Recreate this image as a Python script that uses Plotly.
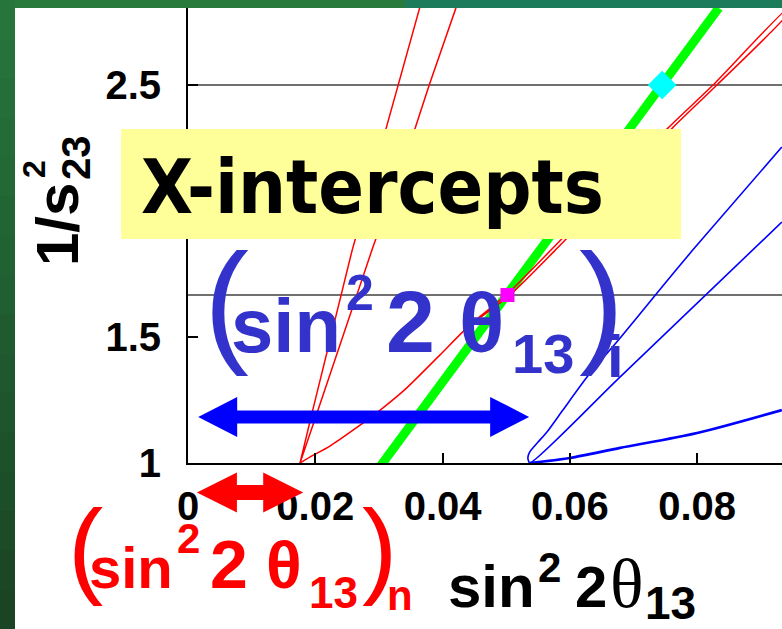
import plotly.graph_objects as go

# ---------------- data ----------------
x_range = [0, 0.09333]
y_range = [1, 2.8056]

x_tickvals = [0, 0.02, 0.04, 0.06, 0.08]
x_ticktext = ["0", "0.02", "0.04", "0.06", "0.08"]
y_tickvals = [1, 1.5, 2, 2.5]
y_ticktext = ["1", "1.5", "2", "2.5"]

ref_levels = [2.5, 1.6667]          # 1/s23^2 for s23^2 = 0.4 and 0.6

# red contour A (steep narrow loop)
redA_x = [0.0364, 0.0330, 0.0311, 0.0258, 0.0195, 0.0176, 0.0203, 0.0289, 0.0357, 0.0379, 0.0421]
redA_y = [2.806, 2.500, 2.329, 1.845, 1.200, 1.000, 1.200, 1.845, 2.329, 2.500, 2.806]

# red contour B (curved loop through the magenta point)
redB_x = [0.0176, 0.0192, 0.0223, 0.0262, 0.0302, 0.0342, 0.0396, 0.0443, 0.0500, 0.0578,
          0.0666, 0.0754, 0.0825, 0.0945, 0.0945, 0.0831, 0.0761, 0.0673, 0.0585, 0.0506, 0.0443]
redB_y = [1.000, 1.024, 1.067, 1.135, 1.210, 1.294, 1.429, 1.548, 1.667, 1.865,
          2.095, 2.329, 2.500, 2.810, 2.790, 2.500, 2.329, 2.095, 1.865, 1.667, 1.548]

# blue contour C (loop)
blueC_x = [0.0933, 0.0793, 0.0737, 0.0679, 0.0627, 0.0589, 0.0564, 0.0550, 0.0537, 0.0534,
           0.0537, 0.0677, 0.0933]
blueC_y = [2.254, 1.845, 1.675, 1.496, 1.341, 1.210, 1.123, 1.083, 1.044, 1.020,
           1.000, 1.337, 1.956]

# blue contour D (lower branch)
blueD_x = [0.0537, 0.0600, 0.0679, 0.0800, 0.0933]
blueD_y = [1.000, 1.020, 1.060, 1.119, 1.210]

# green line
green_x = [0.0300, 0.0834]
green_y = [0.980, 2.806]

# intersection markers
magenta_pt = (0.0502, 1.6667)
cyan_pt = (0.0745, 2.5)

# intercept arrows (data units)
blue_arrow = dict(x0=0.0016, x1=0.0536, y=1.183)
red_arrow = dict(x0=0.0014, x1=0.0181, y=0.883)

# ---------------- layout geometry ----------------
W, H = 782, 629
ML, MR, MT, MB = 188, 0, 8, 166
PW = W - ML - MR
PH = H - MT - MB

ARIAL = "Liberation Sans, Arial, sans-serif"
SERIF = "Liberation Serif, Times New Roman, serif"
TAHOMA = "DejaVu Sans Condensed, DejaVu Sans, sans-serif"


def fx(p):
    return (p - ML) / PW


def fy(p):
    return (MT + PH - p) / PH


def dx2p(x):
    return ML + (x - x_range[0]) / (x_range[1] - x_range[0]) * PW


def dy2p(y):
    return MT + PH - (y - y_range[0]) / (y_range[1] - y_range[0]) * PH


fig = go.Figure()

for lv in ref_levels:
    fig.add_trace(go.Scatter(x=x_range, y=[lv, lv], mode="lines",
                             line=dict(color="#707070", width=2), hoverinfo="skip"))

fig.add_trace(go.Scatter(x=blueC_x, y=blueC_y, mode="lines",
                         line=dict(color="#0000FF", width=1.6, shape="spline", smoothing=0.6), hoverinfo="skip"))
fig.add_trace(go.Scatter(x=blueD_x, y=blueD_y, mode="lines",
                         line=dict(color="#0000FF", width=2.6, shape="spline", smoothing=0.8), hoverinfo="skip"))
fig.add_trace(go.Scatter(x=green_x, y=green_y, mode="lines",
                         line=dict(color="#00FF00", width=9), hoverinfo="skip"))
fig.add_trace(go.Scatter(x=redA_x, y=redA_y, mode="lines",
                         line=dict(color="#FF0000", width=1.5), hoverinfo="skip"))
fig.add_trace(go.Scatter(x=redB_x, y=redB_y, mode="lines",
                         line=dict(color="#FF0000", width=1.5, shape="spline", smoothing=0.6), hoverinfo="skip"))
fig.add_trace(go.Scatter(x=[magenta_pt[0]], y=[magenta_pt[1]], mode="markers",
                         marker=dict(symbol="square", size=14, color="#FF00FF"), hoverinfo="skip"))
fig.add_trace(go.Scatter(x=[cyan_pt[0]], y=[cyan_pt[1]], mode="markers",
                         marker=dict(symbol="diamond", size=22, color="#00FFFF"), hoverinfo="skip"))

shapes = []
# green frame (slide background)
shapes.append(dict(type="rect", xref="paper", yref="paper", x0=fx(0), x1=fx(405), y0=fy(8), y1=fy(0),
                   fillcolor="#27793C", line=dict(width=0), layer="above"))
shapes.append(dict(type="rect", xref="paper", yref="paper", x0=fx(405), x1=fx(782), y0=fy(8), y1=fy(0),
                   fillcolor="#1B7B5B", line=dict(width=0), layer="above"))
c0 = (38, 118, 60)
c1 = (26, 68, 36)
nb = 16
for i in range(nb):
    t = i / (nb - 1)
    col = "rgb(%d,%d,%d)" % tuple(round(a + (b - a) * t) for a, b in zip(c0, c1))
    shapes.append(dict(type="rect", xref="paper", yref="paper", x0=fx(0), x1=fx(15),
                       y0=fy(629 * (i + 1) / nb + 1), y1=fy(629 * i / nb),
                       fillcolor=col, line=dict(width=0), layer="above"))

# yellow label box
shapes.append(dict(type="rect", xref="paper", yref="paper", x0=fx(121), x1=fx(681), y0=fy(239), y1=fy(129),
                   fillcolor="#FFFF99", line=dict(width=0), layer="above"))


def arrow_path(x0p, x1p, yc, hl, hh, sh):
    pts = [(x0p, yc), (x0p + hl, yc - hh), (x0p + hl, yc - sh), (x1p - hl, yc - sh),
           (x1p - hl, yc - hh), (x1p, yc), (x1p - hl, yc + hh), (x1p - hl, yc + sh),
           (x0p + hl, yc + sh), (x0p + hl, yc + hh)]
    return "M " + " L ".join("%.5f,%.5f" % (fx(a), fy(b)) for a, b in pts) + " Z"


shapes.append(dict(type="path", xref="paper", yref="paper",
                   path=arrow_path(dx2p(blue_arrow["x0"]), dx2p(blue_arrow["x1"]), dy2p(blue_arrow["y"]), 39, 20, 6.5),
                   fillcolor="#0000FF", line=dict(width=0), layer="above"))
shapes.append(dict(type="path", xref="paper", yref="paper",
                   path=arrow_path(dx2p(red_arrow["x0"]), dx2p(red_arrow["x1"]), dy2p(red_arrow["y"]), 40, 20, 7.5),
                   fillcolor="#FF0000", line=dict(width=0), layer="above"))

annotations = []


def txt(s, x_left, baseline, size, color, family, bold=True, shift=0.3465):
    annotations.append(dict(text=s, xref="paper", yref="paper", x=fx(x_left), y=fy(baseline - shift * size),
                            xanchor="left", yanchor="middle", showarrow=False, borderpad=0, borderwidth=0,
                            font=dict(family=family, size=size, color=color,
                                      weight="bold" if bold else "normal")))


def rtxt(s, xc, yc, size, color, family, bold=True):
    annotations.append(dict(text=s, xref="paper", yref="paper", x=fx(xc), y=fy(yc), textangle=-90,
                            xanchor="center", yanchor="middle", showarrow=False, borderpad=0, borderwidth=0,
                            font=dict(family=family, size=size, color=color,
                                      weight="bold" if bold else "normal")))


# X-intercepts label
txt("X-intercepts", 141, 213, 75, "black", TAHOMA)

# blue (sin^2 2 theta13)_i
BL = "#3333CC"
txt("(", 204, 348, 135, BL, ARIAL, bold=False)
txt("sin", 231, 352, 76, BL, ARIAL)
txt("2", 346, 310, 50, BL, ARIAL)
txt("2", 386, 352, 88, BL, ARIAL)
txt("θ", 459, 352, 84, BL, ARIAL)
txt("13", 512, 373, 56, BL, ARIAL)
txt(")", 579, 348, 135, BL, ARIAL, bold=False)
txt("i", 607, 377, 60, BL, ARIAL)

# red (sin^2 2 theta13)_n
RD = "#FF0000"
txt("(", 68, 584, 106, RD, ARIAL, bold=False)
txt("sin", 89, 588, 58, RD, ARIAL)
txt("2", 177, 553, 42, RD, ARIAL)
txt("2", 210, 588, 68, RD, ARIAL)
txt("θ", 266, 588, 66, RD, ARIAL)
txt("13", 309, 608, 44, RD, ARIAL)
txt(")", 362, 584, 106, RD, ARIAL, bold=False)
txt("n", 387, 610, 42, RD, ARIAL)

# x-axis title
txt("sin", 448, 607, 60, "black", ARIAL)
txt("2", 538, 582, 42, "black", ARIAL)
txt("2", 575, 607, 58, "black", ARIAL)
txt("θ", 610, 607, 70, "black", SERIF, bold=False, shift=0.3375)
txt("13", 645, 619, 46, "black", ARIAL)

# y-axis title 1/s^2_23 (rotated)
rtxt("1/s", 57, 225, 60, "black", ARIAL)
rtxt("2", 34, 169, 32, "black", ARIAL)
rtxt("23", 76, 158, 40, "black", ARIAL)

fig.update_layout(
    width=W, height=H,
    margin=dict(l=ML, r=MR, t=MT, b=MB, pad=0),
    paper_bgcolor="white", plot_bgcolor="white",
    showlegend=False, hovermode=False,
    shapes=shapes, annotations=annotations,
    xaxis=dict(range=x_range, tickvals=x_tickvals, ticktext=x_ticktext, showgrid=False, zeroline=False,
               showline=True, linecolor="black", linewidth=2, ticks="inside", ticklen=10, tickwidth=2,
               tickcolor="black", ticklabelstandoff=7,
               tickfont=dict(family=ARIAL, size=40, color="black", weight="bold")),
    yaxis=dict(range=y_range, tickvals=y_tickvals, ticktext=y_ticktext, showgrid=False, zeroline=False,
               showline=True, linecolor="black", linewidth=2, ticks="inside", ticklen=10, tickwidth=2,
               tickcolor="black", ticklabelstandoff=17,
               tickfont=dict(family=ARIAL, size=40, color="black", weight="bold")),
)

fig.write_html("out.html")
